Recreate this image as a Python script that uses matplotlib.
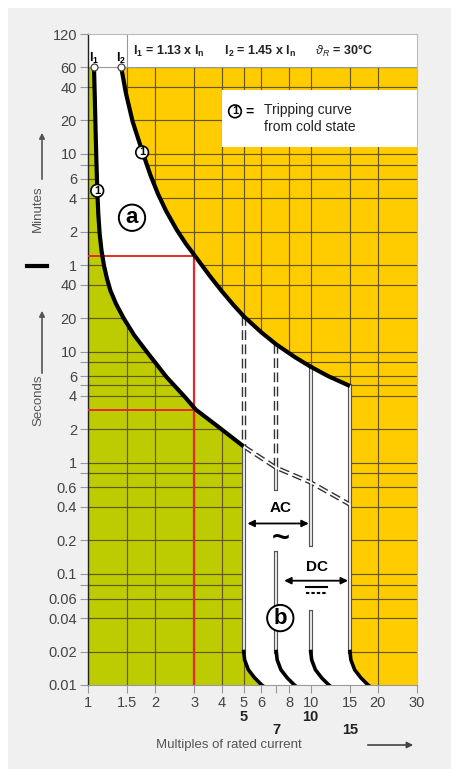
import matplotlib.pyplot as plt
from matplotlib.patches import Polygon, Rectangle, FancyArrowPatch
from matplotlib.lines import Line2D
from matplotlib.ticker import FixedLocator, NullFormatter

plt.rcParams['font.family'] = ['Liberation Sans', 'DejaVu Sans']
plt.rcParams['mathtext.fontset'] = 'custom'
plt.rcParams['mathtext.rm'] = 'Liberation Sans'
plt.rcParams['mathtext.bf'] = 'Liberation Sans:bold'
plt.rcParams['mathtext.it'] = 'Liberation Sans:italic'

W, H = 451, 769

# tripping curves (x = multiple of In, t = seconds)
upper_x = [1.41, 1.479, 1.585, 1.75, 1.905, 2.06, 2.239, 2.5, 2.754, 3.0, 3.548, 4.0, 4.467, 5.0,
           6.0, 7.0, 8.5, 10.0, 12.0, 15.0]
upper_t = [3600, 2124, 1180, 638, 389, 263, 185, 125, 93, 74, 47, 34.7, 26.7, 20.8,
           14.9, 11.6, 8.9, 7.3, 6.0, 4.9]
lower_x = [1.064, 1.073, 1.081, 1.090, 1.100, 1.112, 1.128, 1.150, 1.180, 1.217, 1.262, 1.336,
           1.443, 1.609, 1.84, 2.252, 2.727, 3.05, 3.863, 5.0]
lower_t = [3600, 1905, 1021, 547, 293, 175, 115, 81, 59.3, 45.2, 35.2, 26.9,
           20.1, 14.1, 9.9, 5.9, 3.89, 3.0, 2.09, 1.4]
# continuation of the lower curve (dashed)
ext_x = [5, 7, 10, 15]
ext_t = [1.4, 0.9, 0.665, 0.42]
# magnetic trip tails at the bottom (multiplier of x, seconds)
tail_m = [1.0, 1.01, 1.05, 1.12, 1.2, 1.23]
tail_t = [0.02, 0.0168, 0.0137, 0.0116, 0.0101, 0.0097]
tail_x = [5, 7, 10, 15]
# instantaneous release lines: x, from t, to t, dashed (None = meets upper curve)
rails = [(5, None, 1.4, True), (5, 1.4, 0.02, False),
         (7, None, 0.9, True), (7, 0.9, 0.575, False), (7, 0.155, 0.02, False),
         (10, None, 0.183, False), (10, 0.0456, 0.02, False),
         (15, None, 0.02, False)]

# red reading example
red_x = 3
red_t_hi = 73
red_t_lo = 3

ytick_vals = [7200, 3600, 2400, 1200, 600, 360, 240, 120, 60, 40, 20, 10, 6, 4, 2, 1,
              0.6, 0.4, 0.2, 0.1, 0.06, 0.04, 0.02, 0.01]
ytick_lbls = ['120', '60', '40', '20', '10', '6', '4', '2', '1', '40', '20', '10', '6', '4', '2', '1',
              '0.6', '0.4', '0.2', '0.1', '0.06', '0.04', '0.02', '0.01']
ytick_minor = [480, 8, 5, 0.8, 0.08]
xtick_vals = [1, 1.5, 2, 3, 4, 5, 6, 8, 10, 15, 20, 30]
xtick_lbls = ['1', '1.5', '2', '3', '4', '5', '6', '8', '10', '15', '20', '30']
bold_x = [5, 10, 7, 15]
bold_row = [717, 717, 730, 730]
ygrid = [3600, 2400, 1200, 600, 480, 360, 240, 120, 60, 40, 20, 10, 8, 6, 5, 4, 2, 1,
         0.8, 0.6, 0.4, 0.2, 0.1, 0.08, 0.06, 0.04, 0.02]
xgrid = [1.5, 2, 3, 4, 5, 6, 8, 10, 15, 20]

YELLOW = '#ffcc00'
GREEN = '#bccc00'
GRID = '#65561f'


def P(x, y):
    return (x / W, 1 - y / H)


fig = plt.figure(figsize=(W / 100, H / 100), dpi=100, facecolor='#f0f0f0')
# white margin at top and left
fig.add_artist(Rectangle((0, 0), 8 / W, 1, transform=fig.transFigure, facecolor='white',
                         edgecolor='none', zorder=-5))
fig.add_artist(Rectangle((0, 1 - 8 / H), 1, 8 / H, transform=fig.transFigure, facecolor='white',
                         edgecolor='none', zorder=-5))

ax = fig.add_axes([88 / W, 84 / H, 329 / W, 651 / H])
ax.set_xscale('log')
ax.set_yscale('log')
ax.set_xlim(1, 30)
ax.set_ylim(0.01, 7200)
ax.set_facecolor(YELLOW)

# green zone
tail5 = [(5 * m, t) for m, t in zip(tail_m, tail_t)]
tail15 = [(15 * m, t) for m, t in zip(tail_m, tail_t)]
green = [(1, 3600)] + list(zip(lower_x, lower_t)) + tail5 + [(1, 0.0097)]
ax.add_patch(Polygon(green, closed=True, facecolor=GREEN, edgecolor='none', zorder=1))

# grid
for v in ygrid:
    ax.axhline(v, color=GRID, lw=0.85, zorder=1.5)
for v in xgrid:
    ax.axvline(v, color=GRID, lw=0.85, zorder=1.5)

# white bands a and b
white = list(zip(upper_x, upper_t)) + [(15, 0.02)] + tail15 + tail5[::-1] + list(zip(lower_x, lower_t))[::-1]
ax.add_patch(Polygon(white, closed=True, facecolor='white', edgecolor='none', zorder=2))

# header band and legend box
ax.add_patch(Rectangle((1, 3600), 29, 3600, facecolor='white', edgecolor='none', zorder=2))
ax.axhline(3600, color='#999999', lw=0.8, zorder=2.5)
ax.plot([1.5, 1.5], [3600, 7200], color='#999999', lw=0.8, zorder=2.5)
ax.add_patch(Rectangle((4.0, 700), 26, 1560, facecolor='white', edgecolor='none', zorder=2))

# red example lines
ax.plot([1, red_x], [red_t_hi, red_t_hi], color='#e8262c', lw=1.4, zorder=3)
ax.plot([1, red_x], [red_t_lo, red_t_lo], color='#e8262c', lw=1.4, zorder=3)
ax.plot([red_x, red_x], [0.01, red_t_hi], color='#e8262c', lw=1.6, zorder=3)

# double rails
for x, t0, t1, dashed in rails:
    if t0 is None:
        t0 = upper_t[upper_x.index(x)]
    if dashed:
        ax.plot([x, x], [t0, t1], color='#333333', lw=3.2, ls=(0, (2.2, 1.0)), zorder=3)
    else:
        ax.plot([x, x], [t0, t1], color='#555555', lw=3.0, zorder=3)
    ax.plot([x, x], [t0, t1], color='white', lw=1.2, zorder=3.1)
ax.plot(ext_x, ext_t, color='#333333', lw=3.2, ls=(0, (2.2, 1.0)), zorder=3)
ax.plot(ext_x, ext_t, color='white', lw=1.2, zorder=3.1)

# main curves
ax.plot(upper_x, upper_t, color='black', lw=3.0, zorder=4, solid_capstyle='butt', solid_joinstyle='round')
ax.plot(lower_x, lower_t, color='black', lw=3.0, zorder=4, solid_capstyle='butt', solid_joinstyle='round')
for x in tail_x:
    ax.plot([x * m for m in tail_m], tail_t, color='black', lw=2.6, zorder=4, solid_joinstyle='round')
ax.plot([lower_x[0], upper_x[0]], [3600, 3600], 'o', ms=5, mfc='white', mec='#444444', mew=0.9,
        zorder=6, clip_on=False)

# circled labels
circ = dict(boxstyle='circle,pad=0.12', fc='white', ec='black', lw=1.2)
ax.text(1.10, 280, '1', fontsize=8, fontweight='bold', ha='center', va='center', bbox=circ, zorder=7)
ax.text(1.75, 620, '1', fontsize=8, fontweight='bold', ha='center', va='center', bbox=circ, zorder=7)
big = dict(boxstyle='circle,pad=0.12', fc='white', ec='black', lw=1.4)
ax.text(1.576, 160, 'a', fontsize=16, fontweight='bold', ha='center', va='center', bbox=big, zorder=7)
ax.text(7.3, 0.040, 'b', fontsize=16, fontweight='bold', ha='center', va='center', bbox=big, zorder=7)

# header text
ax.text(1.064, 4300, r'$\mathbf{I_1}$', fontsize=9, ha='center', va='center', zorder=7)
ax.text(1.41, 4300, r'$\mathbf{I_2}$', fontsize=9, ha='center', va='center', zorder=7)
ax.text(1.59, 5100,
        r'$\mathbf{I_1}$ = 1.13 x $\mathbf{I_n}$      $\mathbf{I_2}$ = 1.45 x $\mathbf{I_n}$      $\vartheta_R$ = 30°C',
        fontsize=9, fontweight='bold', ha='left', va='center', color='#222222', zorder=7)

# legend box text
ax.text(4.57, 1450, '1', fontsize=8, fontweight='bold', ha='center', va='center', bbox=circ, zorder=7)
ax.text(5.3, 1450, '=', fontsize=10, fontweight='bold', ha='center', va='center', zorder=7)
ax.text(6.2, 1500, 'Tripping curve', fontsize=10, ha='left', va='center', color='#222222', zorder=7)
ax.text(6.2, 1040, 'from cold state', fontsize=10, ha='left', va='center', color='#222222', zorder=7)

# AC / DC annotations
ax.text(7.3, 0.39, 'AC', fontsize=11, fontweight='bold', ha='center', va='center', zorder=7)
ax.annotate('', xy=(5.2, 0.284), xytext=(9.8, 0.284),
            arrowprops=dict(arrowstyle='<|-|>', color='black', lw=1.3, shrinkA=0, shrinkB=0, mutation_scale=10),
            zorder=7)
ax.text(7.3, 0.205, '~', fontsize=22, fontweight='bold', ha='center', va='center', zorder=7)
ax.text(10.66, 0.116, 'DC', fontsize=11, fontweight='bold', ha='center', va='center', zorder=7)
ax.annotate('', xy=(7.6, 0.0868), xytext=(14.7, 0.0868),
            arrowprops=dict(arrowstyle='<|-|>', color='black', lw=1.3, shrinkA=0, shrinkB=0, mutation_scale=10),
            zorder=7)
fig.add_artist(Line2D([306 / W, 327 / W], [1 - 587 / H] * 2, transform=fig.transFigure, color='black', lw=1.5))
fig.add_artist(Line2D([306 / W, 327 / W], [1 - 593 / H] * 2, transform=fig.transFigure, color='black', lw=1.5,
                      ls=(0, (1.6, 1.0))))

# axes styling
ax.yaxis.set_major_locator(FixedLocator(ytick_vals))
ax.set_yticklabels(ytick_lbls)
ax.yaxis.set_minor_locator(FixedLocator(ytick_minor))
ax.yaxis.set_minor_formatter(NullFormatter())
ax.xaxis.set_major_locator(FixedLocator(xtick_vals))
ax.set_xticklabels(xtick_lbls)
ax.xaxis.set_minor_locator(FixedLocator([7]))
ax.xaxis.set_minor_formatter(NullFormatter())
ax.tick_params(axis='both', which='both', length=6, width=0.8, color='#999999', labelsize=10.5,
               labelcolor='#444444', pad=2)
for s in ['top', 'right']:
    ax.spines[s].set_color('#bbbbbb')
    ax.spines[s].set_linewidth(0.8)
ax.spines['bottom'].set_color('#999999')
ax.spines['left'].set_color('#222222')
ax.spines['left'].set_linewidth(1.0)

# second and third rows of bold x labels
for v, r in zip(bold_x, bold_row):
    ax.text(v, -(r - 685) / 651, str(v), transform=ax.get_xaxis_transform(), fontsize=10.5,
            fontweight='bold', ha='center', va='center', color='#222222')

# axis captions
fig.text(229 / W, 1 - 745 / H, 'Multiples of rated current', fontsize=9.5, color='#555555',
         ha='center', va='center')
fig.add_artist(FancyArrowPatch(P(365, 745), P(416, 745), transform=fig.transFigure,
                               arrowstyle='-|>', mutation_scale=9, lw=1.2, color='#444444'))
fig.text(38 / W, 1 - 209 / H, 'Minutes', fontsize=9.5, color='#555555', rotation=90, ha='center', va='center')
fig.add_artist(FancyArrowPatch(P(42, 182), P(42, 130), transform=fig.transFigure,
                               arrowstyle='-|>', mutation_scale=8, lw=1.2, color='#555555'))
fig.text(38 / W, 1 - 400 / H, 'Seconds', fontsize=9.5, color='#555555', rotation=90, ha='center', va='center')
fig.add_artist(FancyArrowPatch(P(42, 376), P(42, 308), transform=fig.transFigure,
                               arrowstyle='-|>', mutation_scale=8, lw=1.2, color='#555555'))
fig.add_artist(Line2D([27 / W, 47 / W], [1 - 266 / H] * 2, transform=fig.transFigure, color='black', lw=3))

fig.savefig('out.png', dpi=100, facecolor=fig.get_facecolor())
